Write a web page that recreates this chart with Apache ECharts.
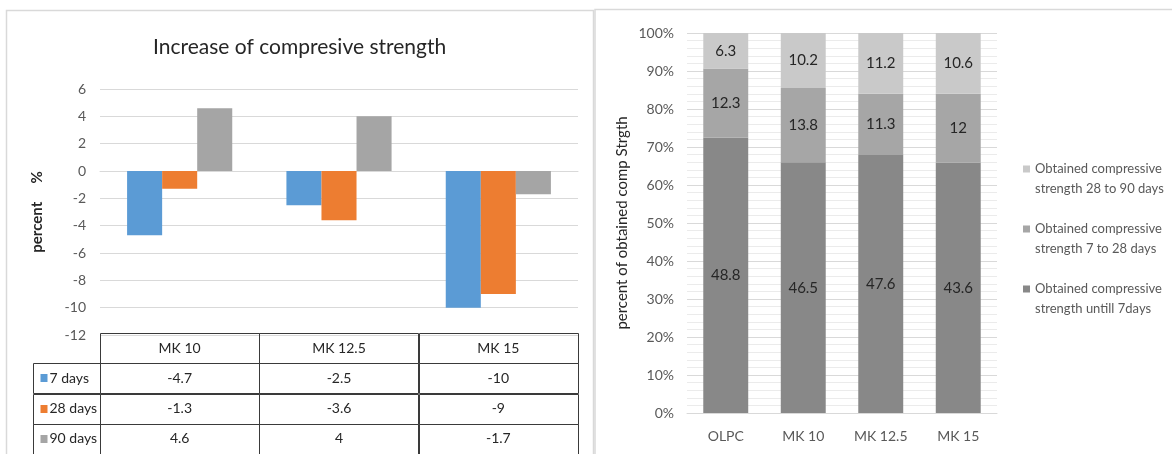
<!DOCTYPE html>
<html>
<head>
<meta charset="utf-8">
<script src="https://cdn.jsdelivr.net/npm/echarts@6/dist/echarts.min.js"></script>
<style>
  html, body { margin: 0; padding: 0; background: #ffffff; }
  #chart { width: 1172px; height: 454px; }
</style>
</head>
<body>
<div id="chart"></div>
<script>
// Increase of compressive strength (%) per mix and curing age
const mixes = ['MK 10', 'MK 12.5', 'MK 15'];
const ageNames = ['7 days', '28 days', '90 days'];
const increase7 = [-4.7, -2.5, -10];
const increase28 = [-1.3, -3.6, -9];
const increase90 = [4.6, 4, -1.7];
const increaseMin = -12;
const increaseMax = 6;
const increaseStep = 2;

// Obtained compressive strength split by age interval
const groups = ['OLPC', 'MK 10', 'MK 12.5', 'MK 15'];
const until7 = [48.8, 46.5, 47.6, 43.6];
const from7to28 = [12.3, 13.8, 11.3, 12];
const from28to90 = [6.3, 10.2, 11.2, 10.6];
const stageNames = [
  'Obtained compressive\nstrength untill 7days',
  'Obtained compressive\nstrength 7 to 28 days',
  'Obtained compressive\nstrength 28 to 90 days'
];

const FONT = 'Lato, "Open Sans", "Noto Sans", sans-serif';
const ageColors = ['#5B9BD5', '#ED7D31', '#A5A5A5'];
const stageColors = ['#888888', '#A6A6A6', '#C9C9C9'];
const increaseRows = [increase7, increase28, increase90];
const stageRows = [until7, from7to28, from28to90];

// share of each stage in the total strength of its group (100% stacked)
const totals = groups.map((g, i) => stageRows.reduce((s, row) => s + row[i], 0));
const shareRows = stageRows.map(row => row.map((v, i) => v / totals[i] * 100));

// data table cells: [column, row], row 0 is the header
const tableCells = [];
for (let r = 0; r <= ageNames.length; r++) {
  for (let c = 0; c < mixes.length; c++) tableCells.push([c, r]);
}

const LABEL_COL = 67;
function renderCell(params, api) {
  const c = api.value(0);
  const r = api.value(1);
  const pt = api.coord([c, r]);
  const sz = api.size([1, 1]);
  const x0 = Math.round(pt[0] - sz[0] / 2) + 0.5;
  const y0 = Math.round(pt[1] - sz[1] / 2) + 0.5;
  const w = Math.round(sz[0]);
  const h = Math.round(sz[1]);
  const text = r === 0 ? mixes[c] : String(increaseRows[r - 1][c]);
  const children = [
    { type: 'rect', shape: { x: x0, y: y0, width: w, height: h },
      style: { fill: 'none', stroke: '#3a3a3a', lineWidth: 1 } },
    { type: 'text', style: { text: text, x: pt[0], y: pt[1], align: 'center', verticalAlign: 'middle',
      font: '14px ' + FONT, fill: '#262626' } }
  ];
  if (c === 0 && r > 0) {
    children.push({ type: 'rect', shape: { x: x0 - LABEL_COL, y: y0, width: LABEL_COL, height: h },
      style: { fill: 'none', stroke: '#3a3a3a', lineWidth: 1 } });
    children.push({ type: 'rect', shape: { x: x0 - LABEL_COL + 7, y: Math.round(pt[1]) - 4, width: 7, height: 8 },
      style: { fill: ageColors[r - 1] } });
    children.push({ type: 'text', style: { text: ageNames[r - 1], x: x0 - LABEL_COL + 16, y: pt[1],
      align: 'left', verticalAlign: 'middle', font: '14px ' + FONT, fill: '#262626' } });
  }
  return { type: 'group', children: children };
}

const chart = echarts.init(document.getElementById('chart'), null, { renderer: 'canvas' });

const option = {
  backgroundColor: '#ffffff',
  animation: false,
  textStyle: { fontFamily: FONT },
  graphic: [
    { type: 'rect', shape: { x: 6.5, y: 10.5, width: 587, height: 480 },
      style: { fill: 'none', stroke: '#D9D9D9', lineWidth: 1.5 }, silent: true, z: -1 },
    { type: 'rect', shape: { x: 595, y: 9.5, width: 600, height: 480 },
      style: { fill: 'none', stroke: '#D9D9D9', lineWidth: 1.5 }, silent: true, z: -1 }
  ],
  title: {
    text: 'Increase of compresive strength',
    left: 148, top: 32,
    textStyle: { fontFamily: FONT, fontSize: 21, fontWeight: 'normal', color: '#262626' }
  },
  legend: {
    orient: 'vertical',
    left: 1018, top: 154,
    itemWidth: 7, itemHeight: 27, itemGap: 20,
    icon: 'path://M0,0h7v7h-7z M0,26.9h0.1v0.1h-0.1z',
    data: stageNames.slice().reverse(),
    textStyle: { fontFamily: FONT, fontSize: 13, color: '#595959', lineHeight: 20 },
    selectedMode: false
  },
  grid: [
    { left: 100, top: 89, width: 478, height: 246 },
    { left: 687, top: 33, width: 310, height: 380 },
    { left: 100, top: 333, width: 478, height: 122 }
  ],
  xAxis: [
    { type: 'category', gridIndex: 0, data: mixes,
      axisLine: { lineStyle: { color: '#D9D9D9' } }, axisTick: { show: false }, axisLabel: { show: false } },
    { type: 'category', gridIndex: 1, data: groups,
      axisLine: { lineStyle: { color: '#D9D9D9' } }, axisTick: { show: false },
      axisLabel: { color: '#595959', fontSize: 14, fontFamily: FONT, margin: 16 } },
    { type: 'category', gridIndex: 2, data: mixes, show: false }
  ],
  yAxis: [
    { type: 'value', gridIndex: 0, min: increaseMin, max: increaseMax, interval: increaseStep,
      name: 'percent     %', nameLocation: 'middle', nameGap: 55, nameRotate: 90,
      nameTextStyle: { fontFamily: FONT, fontSize: 15, fontWeight: 'bold', color: '#262626' },
      axisLine: { show: false }, axisTick: { show: false },
      axisLabel: { color: '#595959', fontSize: 14, fontFamily: FONT, margin: 14 },
      splitLine: { lineStyle: { color: '#D9D9D9' } } },
    { type: 'value', gridIndex: 1, min: 0, max: 100, interval: 10,
      name: 'percent of obtained comp Strgth', nameLocation: 'middle', nameGap: 57, nameRotate: 90,
      nameTextStyle: { fontFamily: FONT, fontSize: 15, color: '#262626' },
      axisLine: { show: false }, axisTick: { show: false },
      axisLabel: { formatter: '{value}%', color: '#595959', fontSize: 14, fontFamily: FONT, margin: 13 },
      splitLine: { lineStyle: { color: '#D9D9D9' } },
      minorTick: { show: false, splitNumber: 5 },
      minorSplitLine: { show: true, lineStyle: { color: '#EBEBEB' } } },
    { type: 'category', gridIndex: 2, inverse: true, data: [''].concat(ageNames), show: false }
  ],
  series: [
    ...ageNames.map((name, k) => ({
      name: name, type: 'bar', xAxisIndex: 0, yAxisIndex: 0,
      data: increaseRows[k], barGap: '0%', barCategoryGap: '34%',
      itemStyle: { color: ageColors[k] }
    })),
    ...stageNames.map((name, k) => ({
      name: name, type: 'bar', xAxisIndex: 1, yAxisIndex: 1, stack: 'share',
      data: shareRows[k], barWidth: '58%',
      itemStyle: { color: stageColors[k] },
      label: { show: true, position: 'inside', color: '#262626', fontSize: 15, fontFamily: FONT,
        formatter: p => String(stageRows[k][p.dataIndex]) }
    })),
    { type: 'custom', xAxisIndex: 2, yAxisIndex: 2, data: tableCells, renderItem: renderCell,
      silent: true, clip: false }
  ]
};

chart.setOption(option);
</script>
</body>
</html>
